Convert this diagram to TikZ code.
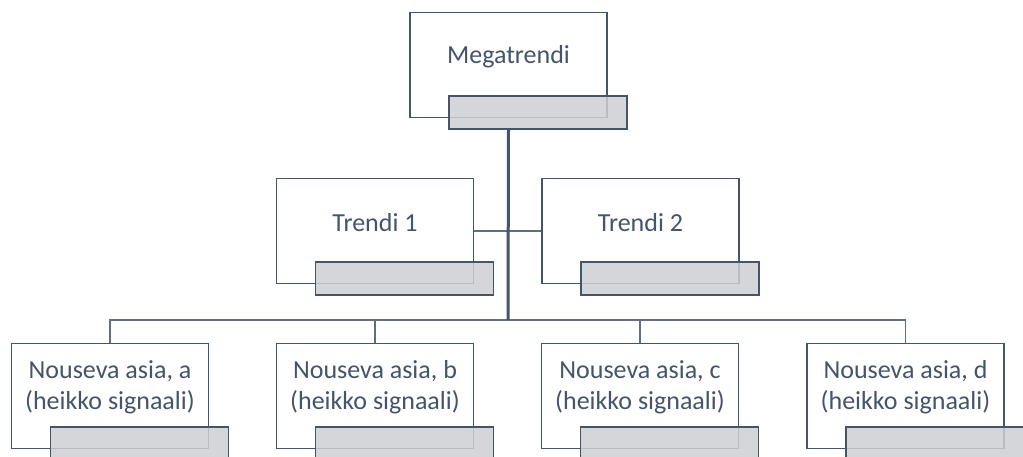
\documentclass[tikz,border=0pt]{standalone}
\usepackage{fontspec}
\setmainfont{Carlito}
\usepackage{tikz}
\usetikzlibrary{calc,positioning}
\definecolor{slate}{HTML}{44546A}
\definecolor{tabgray}{HTML}{CDCFD3}

\begin{document}
\begin{tikzpicture}[
  x=1pt, y=-1pt,
  box/.style={draw=slate, line width=1.7pt, fill=white, inner sep=0pt,
              minimum width=197pt, minimum height=105pt},
  tab/.style={draw=slate, line width=1.7pt, fill=tabgray, fill opacity=0.85,
              inner sep=0pt, anchor=north west,
              minimum width=178pt, minimum height=33pt},
  lbl/.style={text=slate, align=center, inner sep=0pt,
              font=\fontsize{26}{31}\selectfont},
  trunk/.style={draw=slate, line width=3pt},
  link/.style={draw=slate!85, line width=1.9pt},
]
\useasboundingbox (0,0) rectangle (1023,457);
\clip (0,0) rectangle (1023,457);

%% ---- top ------------------------------------------------------------------
\node[box] (mega) at (508.5,65) {};
\node[tab] (megatab) at ([xshift=39pt,yshift=23pt]mega.south west) {};
\node[lbl] (megalbl) at ([yshift=8pt]mega.center) {Megatrendi};

%% ---- trends ---------------------------------------------------------------
\node[box] (trA) at (375,231) {};
\node[tab] (trAtab) at ([xshift=39pt,yshift=23pt]trA.south west) {};
\node[lbl] (trAlbl) at ([yshift=8pt]trA.center) {Trendi 1};

\node[box] (trB) at (640.5,231) {};
\node[tab] (trBtab) at ([xshift=39pt,yshift=23pt]trB.south west) {};
\node[lbl] (trBlbl) at ([yshift=8pt]trB.center) {Trendi 2};

%% ---- weak signals ---------------------------------------------------------
\foreach \nm/\xx/\ch in {sgA/110/a, sgB/375/b, sgC/640/c, sgD/905.5/d} {
  \node[box] (\nm) at (\xx,396) {};
  \node[tab] (\nm tab) at ([xshift=39pt,yshift=23pt]\nm.south west) {};
  \node[lbl] (\nm lbl) at ([yshift=9pt]\nm.center)
    {Nouseva asia, \ch\\(heikko signaali)};
}

%% ---- connectors -----------------------------------------------------------
\coordinate (hub) at (508,320);
\draw[link] (trA.east) -- (trB.west);
\draw[link] (sgA.north) |- (hub);
\draw[link] (sgB.north) |- (hub);
\draw[link] (sgC.north) |- (hub);
\draw[link] (sgD.north) |- (hub);
\draw[trunk] (mega.center |- megatab.south) -- (hub);

\end{tikzpicture}
\end{document}
